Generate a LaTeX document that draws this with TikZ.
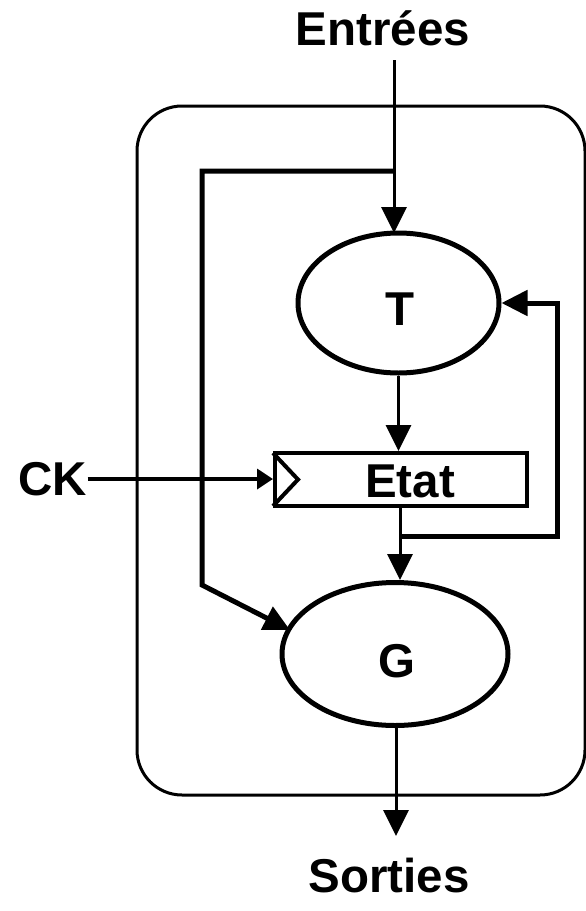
\documentclass[tikz,border=0pt]{standalone}
\usepackage{fontspec}
\setmainfont{Liberation Sans}
\usetikzlibrary{shapes.geometric,arrows.meta}
\begin{document}
\begin{tikzpicture}[x=1pt,y=-1pt,
  lbl/.style={font=\fontsize{47.5}{47.5}\selectfont\bfseries, inner sep=0pt},
  thin/.style={line width=3pt},
  thick/.style={line width=5pt},
  big/.style={-{Triangle[length=26pt,width=25pt]}},
  ell/.style={draw, ellipse, line width=5pt, inner sep=0pt}]
\useasboundingbox (0,0) rectangle (586,911);
% container
\draw[thin, rounded corners=45pt] (137,106) rectangle (585,795);
% nodes
\node[ell, minimum width=201pt, minimum height=140pt,
      label={[lbl, yshift=-6pt, xshift=2pt]center:T}] (T) at (398.5,303) {};
\node[ell, minimum width=226pt, minimum height=143pt,
      label={[lbl, yshift=-7pt, xshift=2pt]center:G}] (G) at (395,654) {};
\node[draw, line width=4pt, minimum width=252pt, minimum height=53pt, inner sep=0pt,
      label={[lbl, xshift=9pt, yshift=-2pt]center:Etat}] (E) at (401,479.5) {};
\node[lbl] (in) at (383,28) {Entrées};
\node[lbl] (ck) at (53,479) {CK};
\node[lbl] (out) at (389,876) {Sorties};
% coordinates
\coordinate (inTop) at (394,60);
\coordinate (split) at (394,171);
\coordinate (bl) at (202,171);
\coordinate (bb) at (202,585);
\coordinate (Tt) at (394,233);
\coordinate (Gin) at (290,630);
\coordinate (br) at (400,536);
\coordinate (rb) at (557,536);
\coordinate (rt) at (557,303);
\coordinate (gs) at (396,727);
\coordinate (ge) at (396,836);
% connectors
\draw[thin, big] (inTop) -- (Tt);
\draw[thick, line join=miter, big] (split) -- (bl) -- (bb) -- (Gin);
\draw[thin, big] (T.south) -- (E.north -| T.south);
\draw[thin, big] (E.south -| br) -- (G.north -| br);
\draw[thick, line join=miter, big] (br) -- (rb) -- (rt) -- (T.east);
\draw[line width=3.5pt, -{Triangle[length=16pt,width=20pt]}] (ck) -- (E.west |- ck);
\draw[line width=4pt] ([yshift=-2pt]E.north west) -- ([xshift=25pt]E.west) -- ([yshift=2pt]E.south west);
\draw[thin, big] (gs) -- (ge);
\end{tikzpicture}
\end{document}
